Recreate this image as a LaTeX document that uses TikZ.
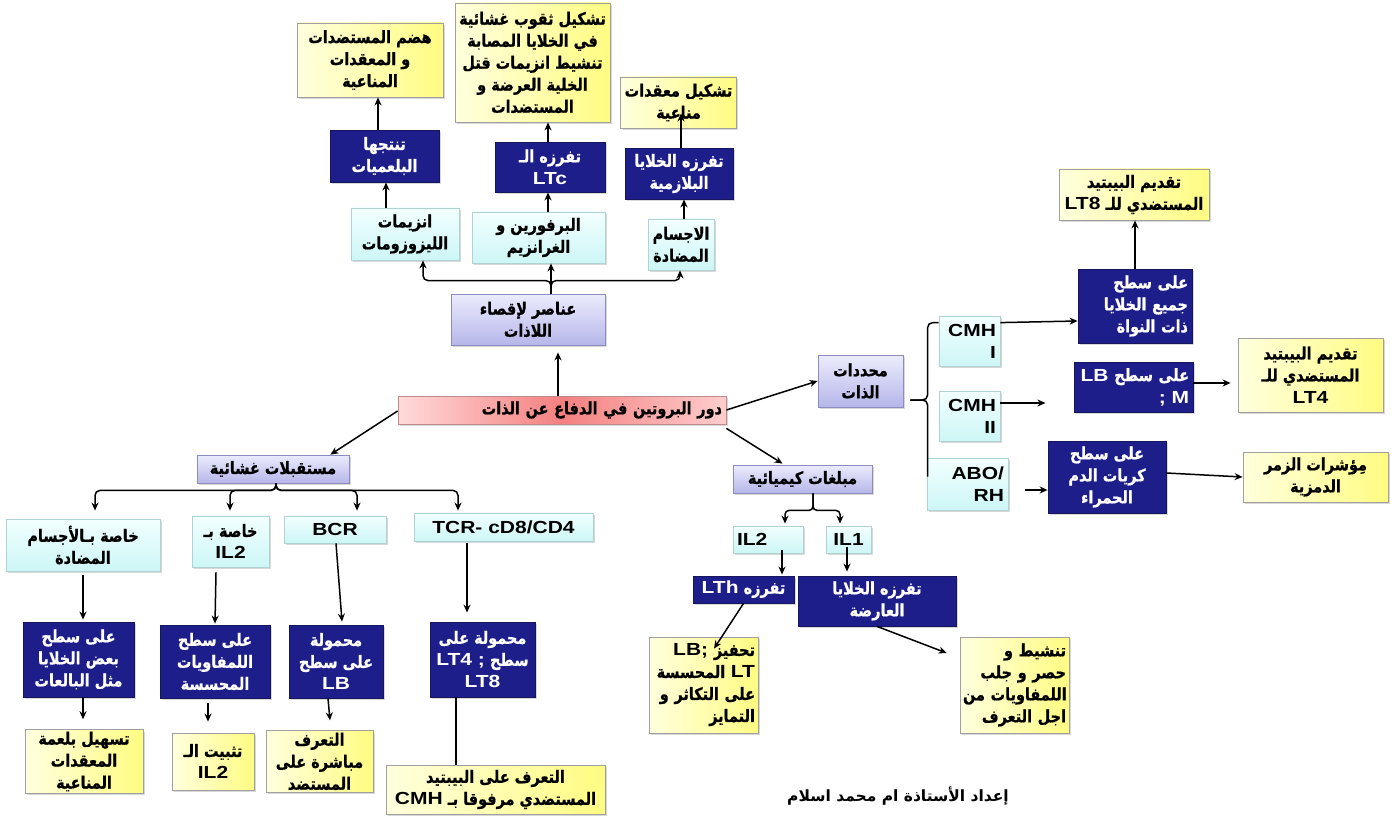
\documentclass[tikz,border=0pt]{standalone}
\usepackage{fontspec}
\usetikzlibrary{arrows.meta,calc,shadows}
\TeXXeTstate=1
\newfontfamily\arabicfont[Script=Arabic,FakeStretch=0.85,BoldFeatures={FakeBold=0.8}]{DejaVu Sans}
\newfontfamily\creditfont[Script=Arabic]{DejaVu Sans}
\newfontfamily\latinfont[FakeStretch=1.2]{Liberation Sans}
% one right-to-left line, and a left-to-right run inside it
\newcommand\ar[1]{\mbox{\beginR #1\endR}}
\newcommand\la[1]{\beginL{\latinfont\bfseries\fontsize{17.5}{22}\selectfont #1}\endL}

\definecolor{yl}{RGB}{255,255,222}
\definecolor{yr}{RGB}{255,252,130}
\definecolor{ybd}{RGB}{160,160,160}
\definecolor{db}{RGB}{30,30,138}
\definecolor{dbd}{RGB}{22,22,95}
\definecolor{ct}{RGB}{242,255,255}
\definecolor{cb}{RGB}{205,246,246}
\definecolor{cbd}{RGB}{175,210,210}
\definecolor{lt}{RGB}{236,236,253}
\definecolor{lb}{RGB}{182,182,234}
\definecolor{lbd}{RGB}{140,140,190}
\definecolor{r1}{RGB}{255,218,218}
\definecolor{r2}{RGB}{244,128,128}
\definecolor{r3}{RGB}{255,205,205}
\definecolor{rbd}{RGB}{190,140,140}

\tikzset{
  base/.style={draw, line width=0.8pt, inner xsep=4pt, inner ysep=2pt, align=center,
    font=\arabicfont\bfseries\fontsize{17}{22}\selectfont,
    drop shadow={shadow xshift=2pt, shadow yshift=-2pt, opacity=0.25, fill=black!60}},
  ybox/.style={base, left color=yl, right color=yr, draw=ybd, text=black},
  dbox/.style={base, fill=db, draw=dbd, text=white},
  cbox/.style={base, top color=ct, bottom color=cb, draw=cbd, text=black},
  lbox/.style={base, top color=lt, bottom color=lb, draw=lbd, text=black},
  rootbox/.style={base, left color=r1, right color=r3, middle color=r2, draw=rbd, text=black},
  arr/.style={line width=1.5pt, -{Stealth[length=8pt,width=7pt]}},
  ln/.style={line width=1.5pt},
}

\begin{document}
\begin{tikzpicture}[x=1pt,y=-1pt]
\fill[white] (0,0) rectangle (1399,818);
\useasboundingbox (0,0) rectangle (1399,818);

% ---- elements that remove the non-self ----
\node[ybox, minimum width=146, minimum height=74] (y1) at (370,60)
  {\ar{هضم المستضدات}\\\ar{و المعقدات}\\\ar{المناعية}};
\node[dbox, minimum width=109, minimum height=52] (db1) at (384.5,156)
  {\ar{تنتجها}\\\ar{البلعميات}};
\node[ybox, minimum width=155, minimum height=119] (y2) at (532.5,62.5)
  {\ar{تشكيل ثقوب غشائية}\\\ar{في الخلايا المصابة}\\\ar{تنشيط انزيمات قتل}\\\ar{الخلية العرضة و}\\\ar{المستضدات}};
\node[dbox, minimum width=110, minimum height=50] (db2) at (550,167)
  {\ar{تفرزه الـ}\\\la{LTc}};
\node[ybox, minimum width=109, minimum height=51] (y3) at (678.5,102.5)
  {\ar{تشكيل معقدات}\\\ar{مناعية}};
\node[dbox, minimum width=108, minimum height=51] (db3) at (679,173.5)
  {\ar{تفرزه الخلايا}\\\ar{البلازمية}};
\node[cbox, minimum width=108, minimum height=52] (c1) at (405,234)
  {\ar{انزيمات}\\\ar{الليزوزومات}};
\node[cbox, minimum width=133, minimum height=51] (c2) at (538.5,237.5)
  {\ar{البرفورين و}\\\ar{الغرانزيم}};
\node[cbox, minimum width=66, minimum height=51] (c3) at (681,244.5)
  {\ar{الاجسام}\\\ar{المضادة}};
\node[lbox, minimum width=154, minimum height=51] (l1) at (528,319.5)
  {\ar{عناصر لإقصاء}\\\ar{اللاذات}};

% ---- root ----
\node[rootbox, minimum height=28, text width=320, align=right] (root) at (562,410)
  {\ar{دور البروتين في الدفاع عن الذات}};

% ---- self markers ----
\node[lbox, minimum width=85, minimum height=52] (md) at (860.5,381)
  {\ar{محددات}\\\ar{الذات}};
\node[cbox, minimum height=50, text width=53, align=right] (cI) at (969.5,341)
  {\la{CMH}\\\la{I}};
\node[cbox, minimum height=50, text width=53, align=right] (cII) at (969.5,416)
  {\la{CMH}\\\la{II}};
\node[cbox, minimum height=52, text width=73, align=right] (abo) at (967.5,484)
  {\la{ABO/}\\\la{RH}};
\node[dbox, minimum height=74, text width=106, align=right] (dbn) at (1135,306)
  {\ar{على سطح}\\\ar{جميع الخلايا}\\\ar{ذات النواة}};
\node[ybox, minimum width=150, minimum height=51] (ylt8) at (1134,194.5)
  {\ar{تقديم البيبتيد}\\\ar{المستضدي للـ \la{LT8}}};
\node[dbox, minimum height=50, text width=111, align=right] (dbm) at (1133.5,387)
  {\ar{على سطح \la{LB}}\\\la{; M}};
\node[ybox, minimum width=145, minimum height=74] (ylt4) at (1310.5,375)
  {\ar{تقديم البيبتيد}\\\ar{المستضدي للـ}\\\la{LT4}};
\node[dbox, minimum width=118, minimum height=72] (dbr) at (1107,477)
  {\ar{على سطح}\\\ar{كريات الدم}\\\ar{الحمراء}};
\node[ybox, minimum width=145, minimum height=50] (yz) at (1315.5,477)
  {\ar{مِؤشرات الزمر}\\\ar{الدمزية}};

% ---- chemical messengers ----
\node[lbox, minimum width=139, minimum height=28] (mb) at (802.5,479)
  {\ar{مبلغات كيميائية}};
\node[cbox, minimum height=27, text width=62, align=left] (il2) at (768,539.5) {\la{IL2}};
\node[cbox, minimum width=45, minimum height=27] (il1) at (848.5,539.5) {\la{IL1}};
\node[dbox, minimum width=101, minimum height=27] (lth) at (743.5,589.5)
  {\ar{تفرزه \la{LTh}}};
\node[dbox, minimum width=158, minimum height=50] (dbar) at (877,601)
  {\ar{تفرزه الخلايا}\\\ar{العارضة}};
\node[ybox, minimum height=96, text width=103, inner xsep=3pt, align=right] (ylb) at (703.5,685)
  {\ar{تحفيز \la{LB;}}\\\ar{\la{LT} المحسسة}\\\ar{على التكاثر و}\\\ar{التمايز}};
\node[ybox, minimum height=96, text width=103, inner xsep=3pt, align=right] (yact) at (1014.5,685)
  {\ar{تنشيط و}\\\ar{حصر و جلب}\\\ar{اللمفاويات من}\\\ar{اجل التعرف}};

% ---- membrane receptors ----
\node[lbox, minimum width=152, minimum height=28] (ms) at (273,469)
  {\ar{مستقبلات غشائية}};
\node[cbox, minimum width=154, minimum height=52] (ca) at (83,545)
  {\ar{خاصة بـالأجسام}\\\ar{المضادة}};
\node[cbox, minimum width=77, minimum height=51] (cb) at (230.5,541.5)
  {\ar{خاصة بـ}\\\la{IL2}};
\node[cbox, minimum width=102, minimum height=27] (cc) at (335,529.5) {\la{BCR}};
\node[cbox, minimum width=179, minimum height=28] (cd) at (503.5,527) {\la{TCR- cD8/CD4}};
\node[dbox, minimum width=111, minimum height=75] (dba) at (78.5,659.5)
  {\ar{على سطح}\\\ar{بعض الخلايا}\\\ar{مثل البالعات}};
\node[dbox, minimum width=110, minimum height=73] (dbb) at (215,661.5)
  {\ar{على سطح}\\\ar{اللمفاويات}\\\ar{المحسسة}};
\node[dbox, minimum width=94, minimum height=73] (dbc) at (336,661.5)
  {\ar{محمولة}\\\ar{على سطح}\\\la{LB}};
\node[dbox, minimum width=105, minimum height=75] (dbd) at (482.5,659.5)
  {\ar{محمولة على}\\\ar{سطح \la{LT4 ;}}\\\la{LT8}};
\node[ybox, minimum width=118, minimum height=57] (ya) at (84,761.5)
  {\ar{تسهيل بلعمة}\\\ar{المعقدات}\\\ar{المناعية}};
\node[ybox, minimum width=82, minimum height=57] (yb) at (213,761.5)
  {\ar{تثبيت الـ}\\\la{IL2}};
\node[ybox, minimum width=107, minimum height=57] (yc) at (319.5,761.5)
  {\ar{التعرف}\\\ar{مباشرة على}\\\ar{المستضد}};
\node[ybox, minimum width=219, minimum height=49] (yd) at (495.5,789.5)
  {\ar{التعرف على البيبتيد}\\\ar{المستضدي مرفوقا بـ \la{CMH}}};

% ---- author ----
\node (credit) at (898,796)
  {\creditfont\bfseries\fontsize{15.5}{18}\selectfont\ar{إعداد الأستاذة ام محمد اسلام}};

% ---- connectors: upper tree ----
\draw[arr] ($(root.north)+(-4,0)$) -- ($(l1.south)+(30,7)$);
\draw[arr] ($(l1.north)+(23,0)$) -- ($(c2.south)+(12.5,0)$);
\draw[arr, rounded corners=5] ($(l1.north)+(23,0)$) -- ++(0,-13) -| ($(c1.south)+(18,0)$);
\draw[arr, rounded corners=5] ($(l1.north)+(23,0)$) -- ++(0,-13) -| ($(c3.south)+(-1,0)$);
\draw[arr] ($(c1.north)+(-19,0)$) -- ($(db1.south)+(1.5,0)$);
\draw[arr] ($(c2.north)+(9.5,0)$) -- ($(db2.south)+(-2,0)$);
\draw[arr] ($(c3.north)+(3,0)$) -- ($(db3.south)+(5,0)$);
\draw[arr] ($(db1.north)+(-6.5,0)$) -- ($(y1.south)+(8,0)$);
\draw[arr] ($(db2.north)+(-2,0)$) -- ($(y2.south)+(15.5,0)$);
\draw[arr] ($(db3.north)+(2,0)$) -- ($(y3.south)+(2.5,-15)$);

% ---- connectors: self markers ----
\draw[arr] (root.east) -- (md.west);
\draw[ln, rounded corners=5] ($(md.east)+(7,19)$) -| ($(cI.north west)+(-11,7)$) -- ($(cI.north west)+(0,7)$);
\draw[ln, rounded corners=5] ($(md.east)+(7,19)$) -| ($(abo.north west)+(1,19)$);
\draw[arr] ($(cI.north east)+(0,7)$) -- ($(dbn.west)+(0,15)$);
\draw[arr] (dbn.north) -- (dbn.north |- ylt8.south);
\draw[arr] ($(cII.east)+(0,-13)$) -- ++(45,0) coordinate (cIIend);
\draw[arr] ($(dbm.east)+(0,-4)$) -- ($(dbm.east -| ylt4.west)+(-7,-4)$);
\draw[arr] ($(abo.east)+(17,6)$) -- ($(dbr.west)+(0,13)$);
\draw[arr] ($(dbr.east)+(0,-4)$) -- (yz.west);

% ---- connectors: chemical messengers ----
\draw[arr] ($(root.south east)+(0,4)$) -- ($(mb.north)+(-20,-1)$);
\draw[arr, rounded corners=4] ($(mb.south)+(10.5,0)$) -- ++(0,17) -| ($(il2.north)+(17,-2)$);
\draw[arr, rounded corners=4] ($(mb.south)+(10.5,0)$) -- ++(0,17) -| ($(il1.north)+(-8.5,-2)$);
\draw[arr] ($(il2.south)+(14,-3)$) -- ($(lth.north)+(38.5,-1)$);
\draw[arr] ($(il1.south)+(-1.5,-6)$) -- ($(dbar.north)+(-30,-4)$);
\draw[arr] (lth.south) -- ($(ylb.north)+(10.5,12)$);
\draw[arr] (dbar.south) -- ($(yact.west)+(-13,-32)$);

% ---- connectors: membrane receptors ----
\draw[arr] ($(root.west)+(0,1)$) -- ($(ms.north east)+(-19,0)$);
\draw[arr, rounded corners=5] ($(ms.south)+(3,0)$) -- ++(0,7) -| ($(ca.north)+(12,-8)$);
\draw[arr, rounded corners=5] ($(ms.south)+(3,0)$) -- ++(0,7) -| ($(cb.north)+(-0.5,-5)$);
\draw[arr, rounded corners=5] ($(ms.south)+(3,0)$) -- ++(0,7) -| ($(cc.north)+(22,-5)$);
\draw[arr, rounded corners=5] ($(ms.south)+(3,0)$) -- ++(0,7) -| ($(cd.north)+(-45.5,-2)$);
\draw[arr] ($(ca.south)+(0,4)$) -- ($(dba.north)+(4.5,-2)$);
\draw[arr] ($(cb.south)+(-14.5,5)$) -- ($(dbb.north)+(0,-1)$);
\draw[arr] ($(cc.south)+(1,0)$) -- ($(dbc.north)+(6,-3)$);
\draw[arr] ($(cd.south)+(-36.5,2)$) -- ($(dbd.north)+(-15.5,-9)$);
\draw[arr] ($(dba.south)+(4.5,0)$) -- ($(ya.north)+(-1,-10)$);
\draw[arr] ($(dbb.south)+(-7,5)$) -- ($(yb.north)+(-5,-11)$);
\draw[arr] ($(dbc.south)+(-8,0)$) -- ($(yc.north)+(10.5,-10)$);
\draw[ln] ($(dbd.south)+(-26.5,0)$) -- ($(yd.north)+(-39.5,0)$);
\end{tikzpicture}
\end{document}
